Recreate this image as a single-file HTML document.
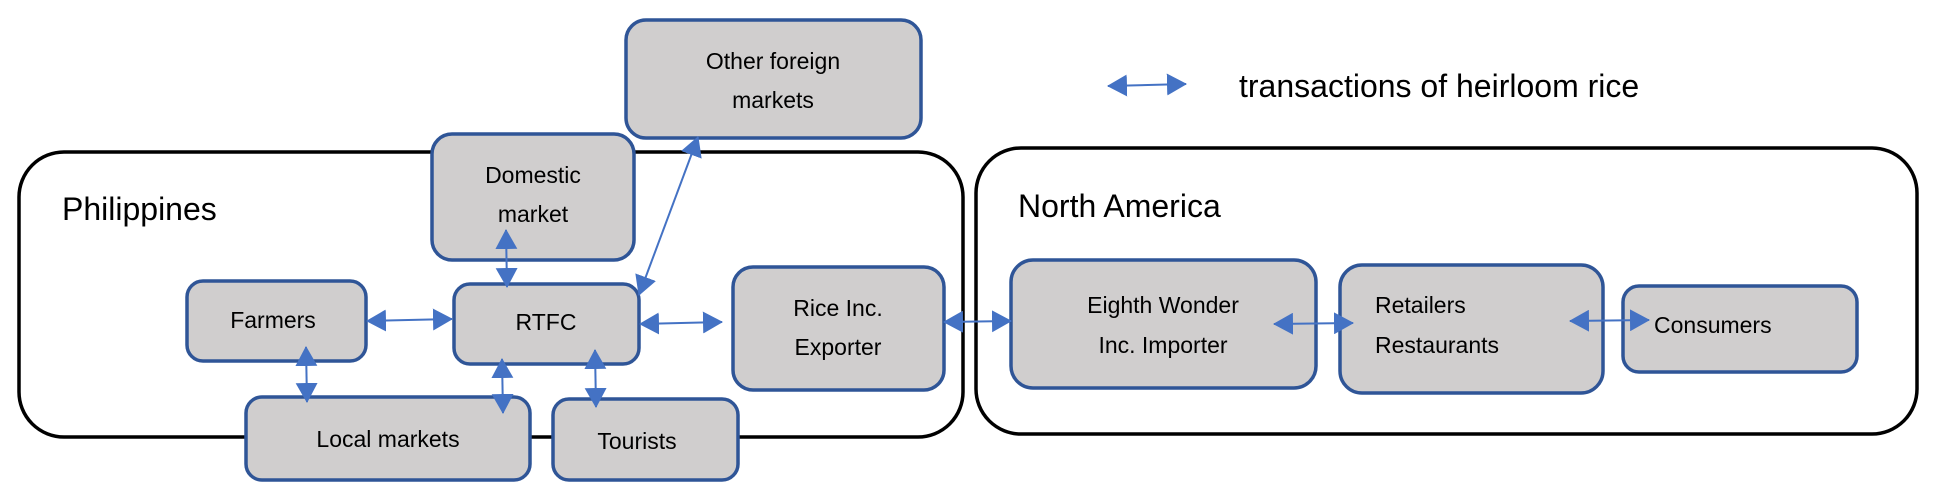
<!DOCTYPE html>
<html><head><meta charset="utf-8"><style>
html,body{margin:0;padding:0;background:#fff}
svg{display:block}
text{font-family:"Liberation Sans",sans-serif;fill:#000}
.b{fill:#D0CECE;stroke:#2F5597;stroke-width:3.5}
.r{fill:none;stroke:#000;stroke-width:3.5}
.a{stroke:#4472C4;stroke-width:2;fill:none;marker-start:url(#m);marker-end:url(#m)}
.t{font-size:23px;text-anchor:middle}
</style></head><body>
<svg width="1944" height="495" viewBox="0 0 1944 495" xmlns="http://www.w3.org/2000/svg">
<defs>
<marker id="m" viewBox="0 0 20 22" refX="19" refY="11" markerWidth="20" markerHeight="22" markerUnits="userSpaceOnUse" orient="auto-start-reverse">
<path d="M0,0 L20,11 L0,22 Z" fill="#4472C4"/>
</marker>
</defs>
<rect class="r" x="19" y="152" width="944" height="285" rx="45" ry="45"/>
<rect class="r" x="976" y="148" width="941" height="286" rx="45" ry="45"/>
<text x="62" y="220" style="font-size:32px">Philippines</text>
<text x="1018" y="217" style="font-size:32px">North America</text>
<text x="1239" y="97" style="font-size:32px">transactions of heirloom rice</text>
<line class="a" x1="1108" y1="86" x2="1186" y2="84"/>

<rect class="b" x="626" y="20" width="295" height="118" rx="20"/>
<text class="t" x="773" y="69">Other foreign</text>
<text class="t" x="773" y="108">markets</text>
<rect class="b" x="432" y="134" width="202" height="126" rx="20"/>
<text class="t" x="533" y="183">Domestic</text>
<text class="t" x="533" y="222">market</text>
<rect class="b" x="187" y="281" width="179" height="80" rx="16"/>
<text class="t" x="273" y="328">Farmers</text>
<rect class="b" x="454" y="284" width="185" height="80" rx="16"/>
<text class="t" x="546" y="330">RTFC</text>
<rect class="b" x="733" y="267" width="211" height="123" rx="20"/>
<text class="t" x="838" y="316">Rice Inc.</text>
<text class="t" x="838" y="355">Exporter</text>
<rect class="b" x="246" y="397" width="284" height="83" rx="16"/>
<text class="t" x="388" y="447">Local markets</text>
<rect class="b" x="553" y="399" width="185" height="81" rx="16"/>
<text class="t" x="637" y="449">Tourists</text>
<rect class="b" x="1011" y="260" width="305" height="128" rx="22"/>
<text class="t" x="1163" y="313">Eighth Wonder</text>
<text class="t" x="1163" y="353">Inc. Importer</text>
<rect class="b" x="1340" y="265" width="263" height="128" rx="22"/>
<text x="1375" y="313" style="font-size:23px">Retailers</text>
<text x="1375" y="353" style="font-size:23px">Restaurants</text>
<rect class="b" x="1623" y="286" width="234" height="86" rx="16"/>
<text x="1654" y="333" style="font-size:23px">Consumers</text>

<line class="a" x1="367" y1="321" x2="452" y2="319"/>
<line class="a" x1="640" y1="324" x2="722" y2="322"/>
<line class="a" x1="944" y1="322" x2="1011" y2="321"/>
<line class="a" x1="1274" y1="324" x2="1353" y2="323"/>
<line class="a" x1="1570" y1="321" x2="1649" y2="320"/>
<line class="a" x1="506" y1="230" x2="507" y2="287"/>
<line class="a" x1="306" y1="347" x2="307" y2="402"/>
<line class="a" x1="502" y1="359" x2="503" y2="413"/>
<line class="a" x1="595" y1="350" x2="596" y2="407"/>
<line class="a" x1="639" y1="295" x2="698" y2="137"/>
</svg>
</body></html>
